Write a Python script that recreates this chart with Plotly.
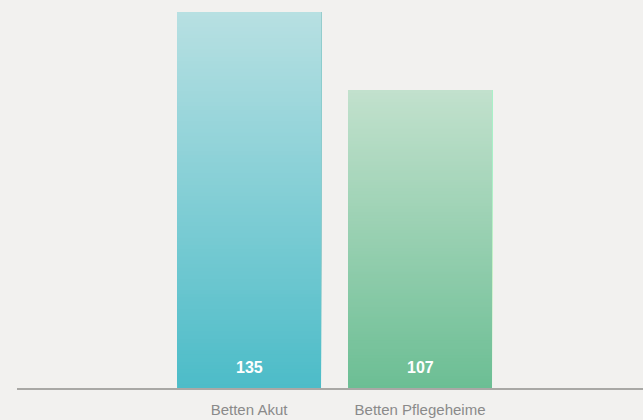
import plotly.graph_objects as go

categories = ["Betten Akut", "Betten Pflegeheime"]
values = [135, 107]
top_colors = [(184, 224, 226), (194, 225, 205)]
bottom_colors = [(76, 188, 200), (108, 190, 148)]

N = 100
fig = go.Figure()
for k in range(N):
    t = (k + 0.5) / N
    cols = []
    for tc, bc in zip(top_colors, bottom_colors):
        c = tuple(round(b + (tt - b) * t) for tt, b in zip(tc, bc))
        cols.append("rgb(%d,%d,%d)" % c)
    fig.add_trace(go.Bar(
        x=categories,
        y=[v - v * k / N for v in values],
        base=[v * k / N for v in values],
        marker=dict(color=cols, line=dict(width=0)),
        hoverinfo="skip",
        showlegend=False,
    ))

for c, v in zip(categories, values):
    fig.add_annotation(x=c, y=0, yref="y", text="<b>%d</b>" % v, showarrow=False,
                       yanchor="bottom", yshift=10,
                       font=dict(color="white", size=16, family="Liberation Sans, Arial"))

fig.update_layout(
    width=643, height=420,
    margin=dict(l=17, r=0, t=12, b=32),
    paper_bgcolor="#f2f1ef", plot_bgcolor="#f2f1ef",
    barmode="overlay", bargap=0.158,
    xaxis=dict(range=[-1.357, 2.304], showline=True, linecolor="#a9a8a5", linewidth=2,
               showgrid=False, zeroline=False, ticks="outside", ticklen=7,
               tickcolor="rgba(0,0,0,0)",
               tickfont=dict(color="#8a8a8a", size=15, family="Liberation Sans, Arial")),
    yaxis=dict(range=[0, 135], visible=False, showgrid=False, zeroline=False),
    font=dict(family="Liberation Sans, Arial"),
)
fig.write_html("out.html")
